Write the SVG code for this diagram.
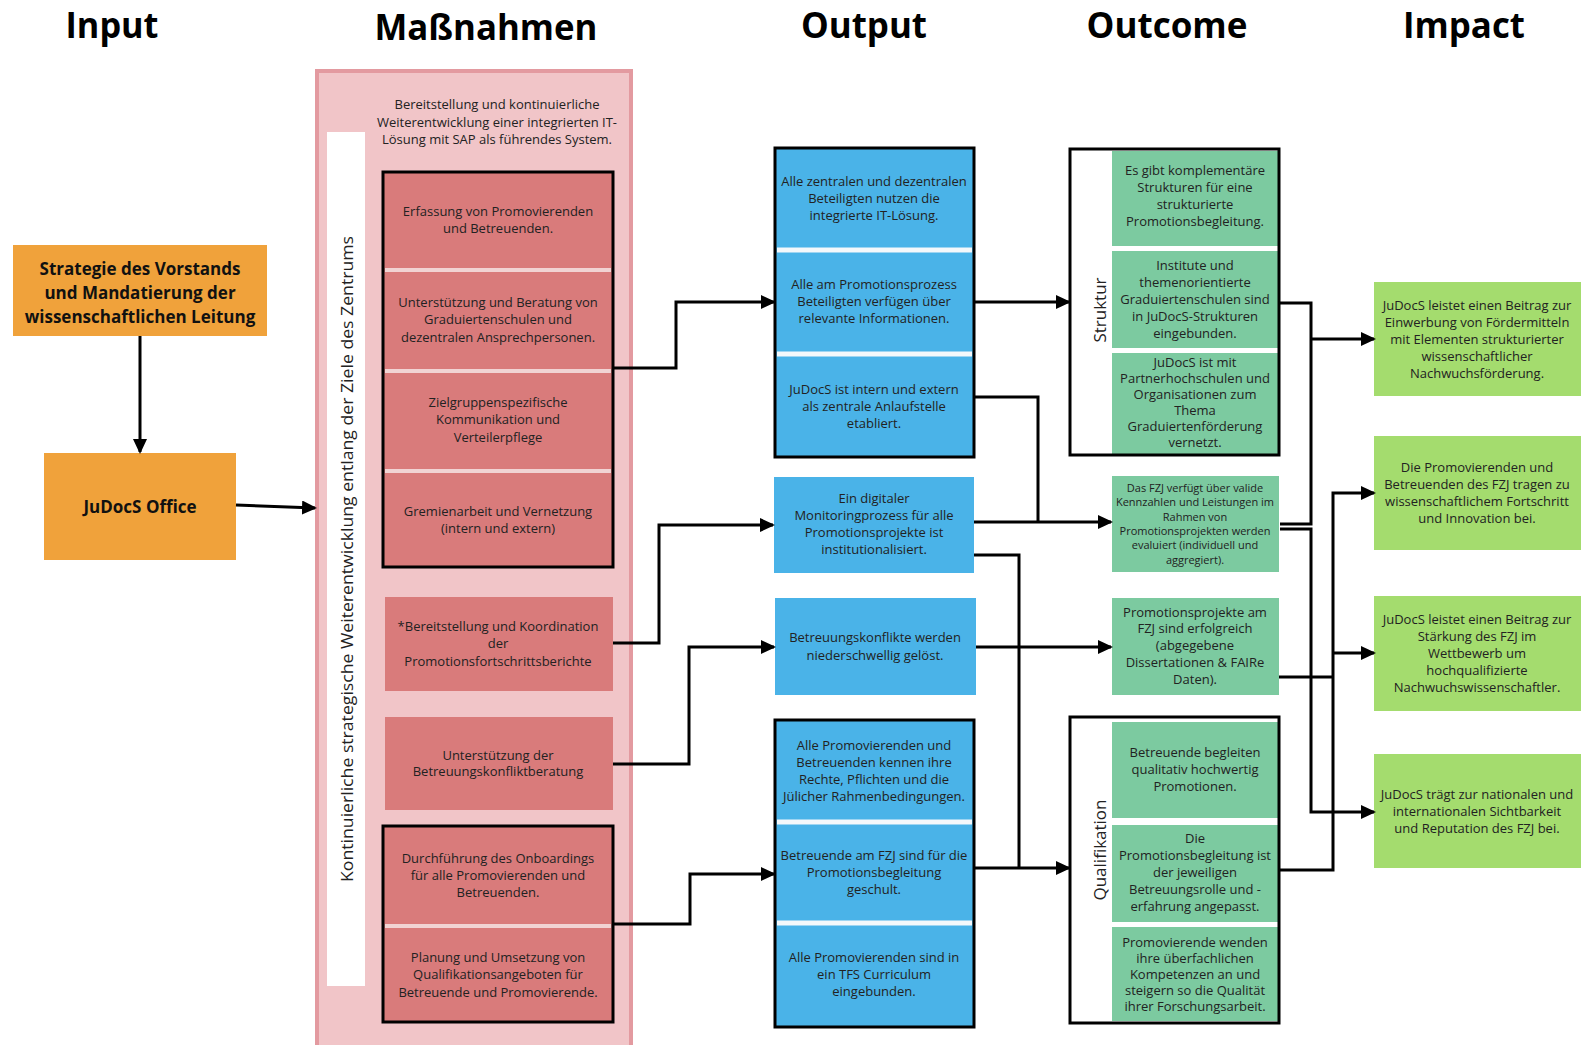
<svg xmlns="http://www.w3.org/2000/svg" width="1589" height="1045" viewBox="0 0 1589 1045">
<style>
.h{font-family:"Open Sans","DejaVu Sans",sans-serif;font-weight:700;font-size:35px;fill:#000;text-anchor:middle}
.t{font-family:"Open Sans","DejaVu Sans",sans-serif;font-size:13px;fill:#222;text-anchor:middle}
.s{font-size:11px}
.b{font-weight:700;font-size:17px;fill:#111}
.lab{font-family:"Open Sans","DejaVu Sans",sans-serif;font-size:17px;fill:#222;text-anchor:middle}
.or{fill:#f0a23b}
.pk{fill:#d97b7b}
.bl{fill:#4ab3e8}
.gr{fill:#7ccaa0}
.lm{fill:#a4dc6e}
.frame{fill:none;stroke:#000;stroke-width:3}
.sepP{stroke:#f1d3d3;stroke-width:4}
.sepW{stroke:#f4f8fb;stroke-width:5}
.c{fill:none;stroke:#000;stroke-width:3}
</style>
<defs>
<marker id="ah" markerUnits="userSpaceOnUse" markerWidth="15" markerHeight="14" refX="13" refY="7" orient="auto">
<path d="M0,0 L15,7 L0,14 z" fill="#000"/>
</marker>
</defs>
<rect width="1589" height="1045" fill="#fff"/>

<g id="headers">
<text class="h" x="112" y="38" textLength="93" lengthAdjust="spacingAndGlyphs">Input</text>
<text class="h" x="486" y="40" textLength="223" lengthAdjust="spacingAndGlyphs">Maßnahmen</text>
<text class="h" x="864" y="38" textLength="126" lengthAdjust="spacingAndGlyphs">Output</text>
<text class="h" x="1167" y="38" textLength="161" lengthAdjust="spacingAndGlyphs">Outcome</text>
<text class="h" x="1464" y="38" textLength="122" lengthAdjust="spacingAndGlyphs">Impact</text>
</g>

<g id="strategie">
<rect class="or" x="13" y="245" width="254" height="91"/>
<text class="t b" x="140" y="275">Strategie des Vorstands</text>
<text class="t b" x="140" y="299">und Mandatierung der</text>
<text class="t b" x="140" y="323">wissenschaftlichen Leitung</text>
</g>

<g id="office">
<rect class="or" x="44" y="453" width="192" height="107"/>
<text class="t b" x="140" y="513">JuDocS Office</text>
</g>

<g id="massnahmen">
<rect x="317" y="71" width="314" height="980" fill="#f1c5c8" stroke="#e39aa0" stroke-width="4"/>
<rect x="327" y="132" width="38" height="854" fill="#fff"/>
<text class="lab" x="353" y="559" transform="rotate(-90 353 559)" textLength="646" lengthAdjust="spacingAndGlyphs">Kontinuierliche strategische Weiterentwicklung entlang der Ziele des Zentrums</text>
<text class="t" x="497" y="109">Bereitstellung und kontinuierliche</text>
<text class="t" x="497" y="127">Weiterentwicklung einer integrierten IT-</text>
<text class="t" x="497" y="144">Lösung mit SAP als führendes System.</text>
</g>

<g id="m-group1">
<rect class="pk" x="383" y="172" width="230" height="395"/>
<line class="sepP" x1="385" y1="270" x2="611" y2="270"/>
<line class="sepP" x1="385" y1="371" x2="611" y2="371"/>
<line class="sepP" x1="385" y1="471" x2="611" y2="471"/>
<rect class="frame" x="383" y="172" width="230" height="395"/>
<text class="t" x="498" y="216">Erfassung von Promovierenden</text>
<text class="t" x="498" y="233">und Betreuenden.</text>
<text class="t" x="498" y="307">Unterstützung und Beratung von</text>
<text class="t" x="498" y="324">Graduiertenschulen und</text>
<text class="t" x="498" y="342">dezentralen Ansprechpersonen.</text>
<text class="t" x="498" y="407">Zielgruppenspezifische</text>
<text class="t" x="498" y="424">Kommunikation und</text>
<text class="t" x="498" y="442">Verteilerpflege</text>
<text class="t" x="498" y="516">Gremienarbeit und Vernetzung</text>
<text class="t" x="498" y="533">(intern und extern)</text>
</g>

<g id="m-berichte">
<rect class="pk" x="385" y="597" width="228" height="94"/>
<text class="t" x="498" y="631">*Bereitstellung und Koordination</text>
<text class="t" x="498" y="648">der</text>
<text class="t" x="498" y="666">Promotionsfortschrittsberichte</text>
</g>

<g id="m-konflikt">
<rect class="pk" x="385" y="717" width="228" height="93"/>
<text class="t" x="498" y="760">Unterstützung der</text>
<text class="t" x="498" y="776">Betreuungskonfliktberatung</text>
</g>

<g id="m-group2">
<rect class="pk" x="383" y="826" width="230" height="196"/>
<line class="sepP" x1="385" y1="926" x2="611" y2="926"/>
<rect class="frame" x="383" y="826" width="230" height="196"/>
<text class="t" x="498" y="863">Durchführung des Onboardings</text>
<text class="t" x="498" y="880">für alle Promovierenden und</text>
<text class="t" x="498" y="897">Betreuenden.</text>
<text class="t" x="498" y="962">Planung und Umsetzung von</text>
<text class="t" x="498" y="979">Qualifikationsangeboten für</text>
<text class="t" x="498" y="997">Betreuende und Promovierende.</text>
</g>

<g id="o-group1">
<rect class="bl" x="775" y="148" width="199" height="309"/>
<line class="sepW" x1="777" y1="250" x2="972" y2="250"/>
<line class="sepW" x1="777" y1="354" x2="972" y2="354"/>
<rect class="frame" x="775" y="148" width="199" height="309"/>
<text class="t" x="874" y="186">Alle zentralen und dezentralen</text>
<text class="t" x="874" y="203">Beteiligten nutzen die</text>
<text class="t" x="874" y="220">integrierte IT-Lösung.</text>
<text class="t" x="874" y="289">Alle am Promotionsprozess</text>
<text class="t" x="874" y="306">Beteiligten verfügen über</text>
<text class="t" x="874" y="323">relevante Informationen.</text>
<text class="t" x="874" y="394">JuDocS ist intern und extern</text>
<text class="t" x="874" y="411">als zentrale Anlaufstelle</text>
<text class="t" x="874" y="428">etabliert.</text>
</g>

<g id="o-monitoring">
<rect class="bl" x="774" y="477" width="200" height="96"/>
<text class="t" x="874" y="503">Ein digitaler</text>
<text class="t" x="874" y="520">Monitoringprozess für alle</text>
<text class="t" x="874" y="537">Promotionsprojekte ist</text>
<text class="t" x="874" y="554">institutionalisiert.</text>
</g>

<g id="o-konflikte">
<rect class="bl" x="775" y="598" width="201" height="97"/>
<text class="t" x="875" y="642">Betreuungskonflikte werden</text>
<text class="t" x="875" y="660">niederschwellig gelöst.</text>
</g>

<g id="o-group2">
<rect class="bl" x="775" y="720" width="199" height="307"/>
<line class="sepW" x1="777" y1="822" x2="972" y2="822"/>
<line class="sepW" x1="777" y1="923" x2="972" y2="923"/>
<rect class="frame" x="775" y="720" width="199" height="307"/>
<text class="t" x="874" y="750">Alle Promovierenden und</text>
<text class="t" x="874" y="767">Betreuenden kennen ihre</text>
<text class="t" x="874" y="784">Rechte, Pflichten und die</text>
<text class="t" x="874" y="801">Jülicher Rahmenbedingungen.</text>
<text class="t" x="874" y="860">Betreuende am FZJ sind für die</text>
<text class="t" x="874" y="877">Promotionsbegleitung</text>
<text class="t" x="874" y="894">geschult.</text>
<text class="t" x="874" y="962">Alle Promovierenden sind in</text>
<text class="t" x="874" y="979">ein TFS Curriculum</text>
<text class="t" x="874" y="996">eingebunden.</text>
</g>

<g id="struktur">
<rect x="1070" y="149" width="209" height="306" fill="#fff"/>
<rect class="gr" x="1112" y="151" width="166" height="95"/>
<rect class="gr" x="1112" y="251" width="166" height="97"/>
<rect class="gr" x="1112" y="353" width="166" height="101"/>
<rect class="frame" x="1070" y="149" width="209" height="306"/>
<text class="lab" x="1106" y="310" transform="rotate(-90 1106 310)">Struktur</text>
<text class="t" x="1195" y="175">Es gibt komplementäre</text>
<text class="t" x="1195" y="192">Strukturen für eine</text>
<text class="t" x="1195" y="209">strukturierte</text>
<text class="t" x="1195" y="226">Promotionsbegleitung.</text>
<text class="t" x="1195" y="270">Institute und</text>
<text class="t" x="1195" y="287">themenorientierte</text>
<text class="t" x="1195" y="304">Graduiertenschulen sind</text>
<text class="t" x="1195" y="321">in JuDocS-Strukturen</text>
<text class="t" x="1195" y="338">eingebunden.</text>
<text class="t" x="1195" y="367">JuDocS ist mit</text>
<text class="t" x="1195" y="383">Partnerhochschulen und</text>
<text class="t" x="1195" y="399">Organisationen zum</text>
<text class="t" x="1195" y="415">Thema</text>
<text class="t" x="1195" y="431">Graduiertenförderung</text>
<text class="t" x="1195" y="447">vernetzt.</text>
</g>

<g id="kennzahlen">
<rect class="gr" x="1112" y="476" width="167" height="96"/>
<text class="t s" x="1195" y="492">Das FZJ verfügt über valide</text>
<text class="t s" x="1195" y="506">Kennzahlen und Leistungen im</text>
<text class="t s" x="1195" y="521">Rahmen von</text>
<text class="t s" x="1195" y="535">Promotionsprojekten werden</text>
<text class="t s" x="1195" y="549">evaluiert (individuell und</text>
<text class="t s" x="1195" y="564">aggregiert).</text>
</g>

<g id="erfolgreich">
<rect class="gr" x="1112" y="598" width="167" height="97"/>
<text class="t" x="1195" y="617">Promotionsprojekte am</text>
<text class="t" x="1195" y="633">FZJ sind erfolgreich</text>
<text class="t" x="1195" y="650">(abgegebene</text>
<text class="t" x="1195" y="667">Dissertationen &amp; FAIRe</text>
<text class="t" x="1195" y="684">Daten).</text>
</g>

<g id="qualifikation">
<rect x="1070" y="717" width="209" height="306" fill="#fff"/>
<rect class="gr" x="1112" y="722" width="166" height="96"/>
<rect class="gr" x="1112" y="825" width="166" height="97"/>
<rect class="gr" x="1112" y="927" width="166" height="94"/>
<rect class="frame" x="1070" y="717" width="209" height="306"/>
<text class="lab" x="1106" y="850" transform="rotate(-90 1106 850)">Qualifikation</text>
<text class="t" x="1195" y="757">Betreuende begleiten</text>
<text class="t" x="1195" y="774">qualitativ hochwertig</text>
<text class="t" x="1195" y="791">Promotionen.</text>
<text class="t" x="1195" y="843">Die</text>
<text class="t" x="1195" y="860">Promotionsbegleitung ist</text>
<text class="t" x="1195" y="877">der jeweiligen</text>
<text class="t" x="1195" y="894">Betreuungsrolle und -</text>
<text class="t" x="1195" y="911">erfahrung angepasst.</text>
<text class="t" x="1195" y="947">Promovierende wenden</text>
<text class="t" x="1195" y="963">ihre  überfachlichen</text>
<text class="t" x="1195" y="979">Kompetenzen an und</text>
<text class="t" x="1195" y="995">steigern so die Qualität</text>
<text class="t" x="1195" y="1011">ihrer Forschungsarbeit.</text>
</g>

<g id="impact1">
<rect class="lm" x="1374" y="282" width="207" height="114"/>
<text class="t" x="1477" y="309.5">JuDocS leistet einen Beitrag zur</text>
<text class="t" x="1477" y="326.5">Einwerbung von Fördermitteln</text>
<text class="t" x="1477" y="343.5">mit Elementen strukturierter</text>
<text class="t" x="1477" y="360.5">wissenschaftlicher</text>
<text class="t" x="1477" y="377.5">Nachwuchsförderung.</text>
</g>

<g id="impact2">
<rect class="lm" x="1374" y="436" width="207" height="114"/>
<text class="t" x="1477" y="472">Die Promovierenden und</text>
<text class="t" x="1477" y="489">Betreuenden des FZJ  tragen zu</text>
<text class="t" x="1477" y="506">wissenschaftlichem Fortschritt</text>
<text class="t" x="1477" y="523">und Innovation bei.</text>
</g>

<g id="impact3">
<rect class="lm" x="1374" y="596" width="207" height="115"/>
<text class="t" x="1477" y="624">JuDocS leistet einen Beitrag zur</text>
<text class="t" x="1477" y="641">Stärkung des FZJ im</text>
<text class="t" x="1477" y="658">Wettbewerb um</text>
<text class="t" x="1477" y="675">hochqualifizierte</text>
<text class="t" x="1477" y="692">Nachwuchswissenschaftler.</text>
</g>

<g id="impact4">
<rect class="lm" x="1374" y="754" width="207" height="114"/>
<text class="t" x="1477" y="798.5">JuDocS trägt zur nationalen und</text>
<text class="t" x="1477" y="815.5">internationalen Sichtbarkeit</text>
<text class="t" x="1477" y="832.5">und Reputation des FZJ bei.</text>
</g>

<g id="connectors">
<path class="c" d="M140,336 V452" marker-end="url(#ah)"/>
<path class="c" d="M236,505 L315,508" marker-end="url(#ah)"/>
<path class="c" d="M613,368 H676 V302 H774" marker-end="url(#ah)"/>
<path class="c" d="M613,643 H659 V525 H773" marker-end="url(#ah)"/>
<path class="c" d="M613,764 H689 V647 H774" marker-end="url(#ah)"/>
<path class="c" d="M613,924 H690 V874 H774" marker-end="url(#ah)"/>
<path class="c" d="M974,302 H1069" marker-end="url(#ah)"/>
<path class="c" d="M974,397 H1038 V522"/>
<path class="c" d="M974,522 H1111" marker-end="url(#ah)"/>
<path class="c" d="M974,555 H1019 V868"/>
<path class="c" d="M976,647 H1111" marker-end="url(#ah)"/>
<path class="c" d="M974,868 H1069" marker-end="url(#ah)"/>
<path class="c" d="M1279,303 H1311 V524 H1280"/>
<path class="c" d="M1311,339 H1374" marker-end="url(#ah)"/>
<path class="c" d="M1280,529 H1311 V812 H1374" marker-end="url(#ah)"/>
<path class="c" d="M1279,870 H1333 V493 H1374" marker-end="url(#ah)"/>
<path class="c" d="M1279,677 H1333"/>
<path class="c" d="M1333,653 H1374" marker-end="url(#ah)"/>
</g>
</svg>
